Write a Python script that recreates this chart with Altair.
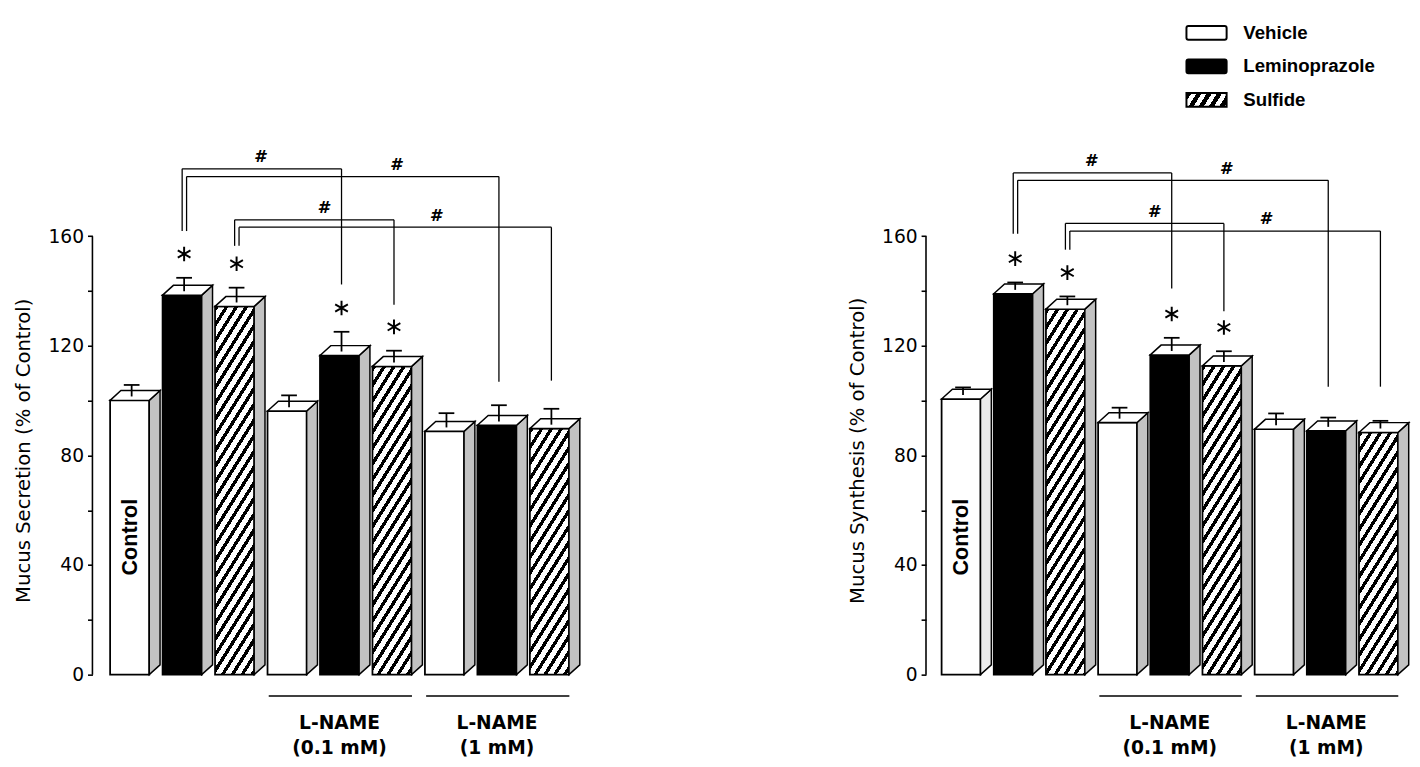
import math
import altair as alt
import pandas as pd

# ---------------- data ----------------
treatments = ["Vehicle", "Leminoprazole", "Sulfide"]
bar_treatment = treatments * 3
bar_group = ["Control"] * 3 + ["L-NAME (0.1 mM)"] * 3 + ["L-NAME (1 mM)"] * 3

secretion_mean = [100.1, 138.5, 134.4, 96.2, 116.5, 112.5, 88.8, 91.0, 89.8]
secretion_sem = [4.2, 4.9, 5.4, 4.3, 7.2, 4.3, 5.2, 5.9, 5.8]
synthesis_mean = [100.6, 139.0, 133.4, 92.0, 116.7, 112.7, 89.6, 89.0, 88.4]
synthesis_sem = [2.8, 2.7, 3.2, 4.0, 4.8, 3.9, 4.3, 3.4, 2.8]
star_vs_control = [False, True, True, False, True, True, False, False, False]

# '#' comparisons (bar index from -> to), bracket levels in % of control
comp_from = [1, 1, 2, 2]
comp_to = [4, 7, 5, 8]
comp_outer = [True, False, True, False]
hash_x = [2.48, 5.07, 3.69, 5.83]
secretion_bracket_top = [184.6, 181.8, 166.0, 163.3]
secretion_bracket_start = [161.9, 161.9, 156.5, 156.5]
secretion_bracket_end = [142.4, 106.9, 135.0, 107.3]
synthesis_bracket_top = [183.1, 180.4, 164.7, 161.9]
synthesis_bracket_start = [160.9, 160.9, 155.1, 155.1]
synthesis_bracket_end = [140.9, 105.1, 132.6, 105.1]

y_ticks = [0, 20, 40, 60, 80, 100, 120, 140, 160]
group_spans = [(3, 5), (6, 8)]
group_line1 = ["L-NAME", "L-NAME"]
group_line2 = ["(0.1 mM)", "(1 mM)"]

# ---------------- geometry / style ----------------
PLOT_H = 667
Y_MAX = 239
K = PLOT_H / Y_MAX          # px per unit
DEPTH_PX = 11
DEPTH_U = 10 / K
HALF_W = 0.373
SIDE_GRAY = "#c2c2c2"
FONT = "DejaVu Sans"
FONT2 = "Liberation Sans"


def hatch_gradient(w, h, period=10.0, angle=58.0, black=0.4):
    s, c = math.sin(math.radians(angle)), math.cos(math.radians(angle))
    L = w * s + h * c
    kk = L / (w * w * s * s + h * h * c * c)
    a, b = kk * w * s, kk * h * c
    P = period * s / L
    stops = [{"offset": 0, "color": "white"}]
    j = 0
    while j * P < 1:
        t0 = round(j * P, 5)
        t1 = round(min((j + black) * P, 1), 5)
        stops += [{"offset": t0, "color": "white"}, {"offset": t0, "color": "black"},
                  {"offset": t1, "color": "black"}, {"offset": t1, "color": "white"}]
        j += 1
    stops.append({"offset": 1, "color": "white"})
    return {"gradient": "linear", "x1": 0, "y1": 0, "x2": round(a, 5), "y2": round(b, 5), "stops": stops}


def panel(mean, sem, btop, bstart, bend, title, slot_px, x0, width, control_side, legend=False):
    dxs = DEPTH_PX / slot_px
    shift = 2 / slot_px
    xdom = [x0, x0 + width / slot_px]
    xscale = alt.Scale(domain=xdom, nice=False, zero=False)
    yscale = alt.Scale(domain=[0, Y_MAX], nice=False, zero=False)
    yaxis = alt.Axis(values=y_ticks, labelExpr="datum.value % 40 == 0 ? datum.label : ''",
                     domain=False, grid=False, tickSize=5, tickWidth=1.6, tickColor="black",
                     labelPadding=4, labelFont=FONT, labelFontSize=19, labelColor="black",
                     labelOverlap=False, title=title, titleFont=FONT, titleFontSize=20,
                     titleFontWeight="normal", titleColor="black", titleAngle=270,
                     titleX=-70, titleY=438.5, titleAlign="center", titleBaseline="middle")

    def X(f):
        return alt.X(f, type="quantitative", scale=xscale, axis=None)

    def Y(f):
        return alt.Y(f, type="quantitative", scale=yscale, axis=yaxis)

    bars = pd.DataFrame({"i": range(9), "treatment": bar_treatment, "group": bar_group,
                         "mean": mean, "sem": sem, "star": star_vs_control})
    bars["x1"] = bars["i"] - HALF_W
    bars["x2"] = bars["i"] + HALF_W
    bars["y0"] = 0.0

    layers = []
    # axis line 0..160
    layers.append(alt.Chart(pd.DataFrame({"a": [0], "b": [160]})).mark_rule(
        color="black", strokeWidth=1.6).encode(x=alt.value(0), y=Y("a"), y2="b"))

    # front faces (plain)
    plain = bars[bars["treatment"] != "Sulfide"]
    layers.append(alt.Chart(plain).mark_rect(stroke="black", strokeWidth=1.8).encode(
        x=X("x1"), x2="x2", y=Y("mean"), y2="y0",
        fill=alt.Fill("treatment:N", scale=alt.Scale(domain=["Vehicle", "Leminoprazole"],
                                                     range=["white", "black"]), legend=None)))
    # front faces (hatched), one layer per bar
    for _, r in bars[bars["treatment"] == "Sulfide"].iterrows():
        g = hatch_gradient(2 * HALF_W * slot_px, r["mean"] * K)
        layers.append(alt.Chart(pd.DataFrame([r])).mark_rect(
            fill=g, stroke="black", strokeWidth=1.8).encode(
            x=X("x1"), x2="x2", y=Y("mean"), y2="y0"))

    # side faces
    side_rows = []
    for _, r in bars.iterrows():
        shade = control_side if r["i"] == 0 else SIDE_GRAY
        side_rows.append({"bar": r["i"], "x": r["x2"], "top": r["mean"], "bot": 0.0, "shade": shade})
        side_rows.append({"bar": r["i"], "x": r["x2"] + dxs, "top": r["mean"] + DEPTH_U,
                          "bot": DEPTH_U, "shade": shade})
    layers.append(alt.Chart(pd.DataFrame(side_rows)).mark_area(
        orient="vertical", stroke="black", strokeWidth=1.5, strokeJoin="miter").encode(
        x=X("x"), y=Y("top"), y2="bot", detail="bar:N", fill=alt.Fill("shade:N", scale=None)))

    # top faces
    top_rows = []
    for _, r in bars.iterrows():
        v = r["mean"]
        for xx, lo, hi in [(r["x1"], v, v), (r["x1"] + dxs, v, v + DEPTH_U),
                           (r["x2"], v, v + DEPTH_U), (r["x2"] + dxs, v + DEPTH_U, v + DEPTH_U)]:
            top_rows.append({"bar": r["i"], "x": xx, "hi": hi, "lo": lo})
    layers.append(alt.Chart(pd.DataFrame(top_rows)).mark_area(
        orient="vertical", fill="white", stroke="black", strokeWidth=1.5, strokeJoin="miter").encode(
        x=X("x"), y=Y("hi"), y2="lo", detail="bar:N"))

    # error bars
    seg = []
    cap_half = 8 / slot_px
    caps = []
    for _, r in bars.iterrows():
        xc = r["i"] + shift
        base = r["mean"] + 0.4 * DEPTH_U
        cap = base + r["sem"]
        caps.append(cap)
        seg.append({"x": xc, "x2": xc, "y": base, "y2": cap})
        seg.append({"x": xc - cap_half, "x2": xc + cap_half, "y": cap, "y2": cap})
    layers.append(alt.Chart(pd.DataFrame(seg)).mark_rule(color="black", strokeWidth=1.8).encode(
        x=X("x"), x2="x2", y=Y("y"), y2="y2"))

    # asterisks
    st = pd.DataFrame({"x": [i + shift for i in range(9) if star_vs_control[i]],
                       "y": [caps[i] + 8.7 for i in range(9) if star_vs_control[i]]})
    asterisk = "M0,-1L0,1M-0.87,-0.5L0.87,0.5M-0.87,0.5L0.87,-0.5"
    layers.append(alt.Chart(st).mark_point(shape=asterisk, filled=False, size=220,
                                           stroke="black", strokeWidth=2, opacity=1).encode(
        x=X("x"), y=Y("y")))

    # brackets
    bseg = []
    for j in range(4):
        xl = comp_from[j] + shift + (-2 if comp_outer[j] else 2.5) / slot_px
        xr = comp_to[j] + shift
        bseg.append({"x": xl, "x2": xl, "y": bstart[j], "y2": btop[j]})
        bseg.append({"x": xl, "x2": xr, "y": btop[j], "y2": btop[j]})
        bseg.append({"x": xr, "x2": xr, "y": btop[j], "y2": bend[j]})
    layers.append(alt.Chart(pd.DataFrame(bseg)).mark_rule(color="black", strokeWidth=1.3).encode(
        x=X("x"), x2="x2", y=Y("y"), y2="y2"))
    hs = pd.DataFrame({"x": hash_x, "y": [t + 4.2 for t in btop], "t": ["#"] * 4})
    layers.append(alt.Chart(hs).mark_text(font=FONT, fontSize=17, fontWeight="bold",
                                          fontStyle="italic", color="black", baseline="middle").encode(
        x=X("x"), y=Y("y"), text="t:N"))

    # Control label inside the first bar
    layers.append(alt.Chart(pd.DataFrame({"x": [0], "y": [50.2], "t": ["Control"]})).mark_text(
        font=FONT2, fontSize=22, fontWeight="bold", angle=270, color="black",
        align="center", baseline="middle").encode(x=X("x"), y=Y("y"), text="t:N"))

    # group underlines and labels
    gl = pd.DataFrame({"x": [a - 0.35 for a, b in group_spans], "x2": [b + 0.38 for a, b in group_spans],
                       "y": [-7.8, -7.8]})
    layers.append(alt.Chart(gl).mark_rule(color="black", strokeWidth=1.5).encode(
        x=X("x"), x2="x2", y=Y("y")))
    gt = pd.DataFrame({"x": [(a + b) / 2 for a, b in group_spans] * 2,
                       "y": [-19.9, -19.9, -28.9, -28.9],
                       "t": group_line1 + group_line2})
    layers.append(alt.Chart(gt).mark_text(font=FONT, fontSize=19, fontWeight="bold", color="black",
                                          baseline="alphabetic", align="center").encode(
        x=X("x"), y=Y("y"), text="t:N"))

    if legend:
        lg = pd.DataFrame({"label": treatments, "y": [234.2, 222.0, 209.8]})
        lg["x1"] = 4.32
        lg["x2"] = 5.09
        lg["ya"] = lg["y"] - 7 / K
        lg["yb"] = lg["y"] + 7 / K
        lg["tx"] = 5.41
        plain_lg = lg[lg["label"] != "Sulfide"]
        layers.append(alt.Chart(plain_lg).mark_rect(stroke="black", strokeWidth=2, cornerRadius=2).encode(
            x=X("x1"), x2="x2", y=Y("ya"), y2="yb",
            fill=alt.Fill("label:N", scale=alt.Scale(domain=["Vehicle", "Leminoprazole"],
                                                     range=["white", "black"]), legend=None)))
        layers.append(alt.Chart(lg[lg["label"] == "Sulfide"]).mark_rect(
            fill=hatch_gradient(41, 14, period=10.5, black=0.5), stroke="black", strokeWidth=2).encode(
            x=X("x1"), x2="x2", y=Y("ya"), y2="yb"))
        layers.append(alt.Chart(lg).mark_text(font=FONT2, fontSize=19, fontWeight="bold", color="black",
                                              align="left", baseline="middle").encode(
            x=X("tx"), y=Y("y"), text="label:N"))

    return alt.layer(*layers).properties(width=width, height=PLOT_H)


left = panel(secretion_mean, secretion_sem, secretion_bracket_top, secretion_bracket_start,
             secretion_bracket_end, "Mucus Secretion (% of Control)", 53.44, -0.710, 510, SIDE_GRAY)
right = panel(synthesis_mean, synthesis_sem, synthesis_bracket_top, synthesis_bracket_start,
              synthesis_bracket_end, "Mucus Synthesis (% of Control)", 53.14, -0.672, 480, "#ececec",
              legend=True)

chart = alt.hconcat(left, right, spacing=259).properties(
    padding={"left": 6, "top": 5, "right": 0, "bottom": 0},
    background="white",
).configure_view(strokeWidth=0, stroke=None)

chart.save("out.html", embed_options={"renderer": "svg", "actions": False})
